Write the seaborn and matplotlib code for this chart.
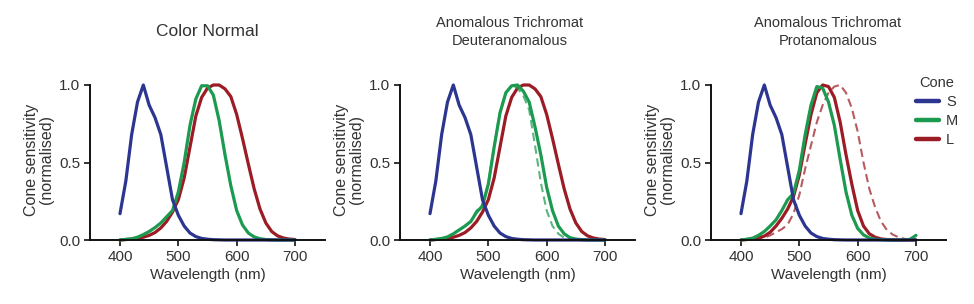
import matplotlib
matplotlib.use("Agg")
import matplotlib.pyplot as plt
import numpy as np
import pandas as pd
import seaborn as sns
from matplotlib.lines import Line2D

# ---------------- data ----------------
wavelength = list(range(400, 701, 10))

s_cone = [0.17, 0.38, 0.68, 0.89, 1.00, 0.87, 0.79, 0.68, 0.47, 0.26,
          0.16, 0.09, 0.045, 0.022, 0.01, 0.005, 0.002, 0.001, 0, 0,
          0, 0, 0, 0, 0, 0, 0, 0, 0, 0, 0]

m_normal = [0.0, 0.004, 0.008, 0.018, 0.035, 0.055, 0.08, 0.11, 0.15, 0.19,
            0.31, 0.50, 0.74, 0.91, 0.995, 0.995, 0.935, 0.77, 0.55, 0.35,
            0.19, 0.097, 0.045, 0.02, 0.008, 0.003, 0.001, 0, 0, 0, 0]

l_normal = [0.0, 0.003, 0.006, 0.01, 0.018, 0.03, 0.048, 0.078, 0.12, 0.18,
            0.26, 0.40, 0.60, 0.80, 0.92, 0.98, 1.0, 1.0, 0.975, 0.925,
            0.81, 0.655, 0.49, 0.33, 0.20, 0.11, 0.055, 0.027, 0.013, 0.006, 0.003]

m_deutan = [0.0, 0.004, 0.01, 0.02, 0.04, 0.065, 0.09, 0.12, 0.18, 0.22,
            0.36, 0.60, 0.82, 0.95, 0.995, 1.0, 0.96, 0.89, 0.73, 0.55,
            0.34, 0.19, 0.09, 0.04, 0.015, 0.006, 0.002, 0, 0, 0, 0]

m_deutan_ref = [0.0, 0.004, 0.01, 0.02, 0.04, 0.065, 0.09, 0.12, 0.19, 0.23,
                0.37, 0.61, 0.83, 0.95, 1.0, 0.98, 0.93, 0.84, 0.61, 0.37,
                0.19, 0.09, 0.04, 0.015, 0.005, 0.001, 0, 0, 0, 0, 0]

m_protan = [0.0, 0.005, 0.012, 0.03, 0.055, 0.09, 0.13, 0.19, 0.26, 0.30,
            0.45, 0.68, 0.87, 0.99, 0.98, 0.89, 0.74, 0.52, 0.31, 0.16,
            0.075, 0.033, 0.013, 0.005, 0.002, 0, 0, 0, 0, 0.005, 0.03]

l_protan = [0.0, 0.003, 0.006, 0.013, 0.025, 0.05, 0.09, 0.14, 0.20, 0.28,
            0.42, 0.62, 0.81, 0.95, 1.0, 0.99, 0.92, 0.76, 0.55, 0.36,
            0.19, 0.09, 0.04, 0.018, 0.007, 0.003, 0.001, 0, 0, 0, 0]

l_protan_ref = [0.0, 0.002, 0.004, 0.008, 0.015, 0.03, 0.05, 0.07, 0.10, 0.17,
                0.29, 0.46, 0.61, 0.76, 0.87, 0.95, 0.99, 1.0, 0.95, 0.85,
                0.70, 0.50, 0.33, 0.21, 0.12, 0.065, 0.035, 0.018, 0.008, 0.003, 0.001]

panel_titles = ["Color Normal",
                "Anomalous Trichromat\nDeuteranomalous",
                "Anomalous Trichromat\nProtanomalous"]
cone_labels = ["S", "M", "L"]
x_ticks = [400, 500, 600, 700]
y_ticks = [0.0, 0.5, 1.0]
y_ticklabels = ["0.0", "0.5", "1.0"]

# ---------------- style ----------------
sns.set_theme(style="ticks")
plt.rcParams["font.family"] = ["Liberation Sans", "DejaVu Sans"]
plt.rcParams["lines.solid_joinstyle"] = "round"
plt.rcParams["lines.solid_capstyle"] = "round"

BLUE = "#2c3590"
GREEN = "#1c9a50"
RED = "#9b1c24"
colors = {"S": BLUE, "M": GREEN, "L": RED}

W, H = 974, 304
fig = plt.figure(figsize=(W / 100, H / 100), dpi=100)

ax_w = 235 / W
bottom = (H - 240) / H
ylim_top = 1.04
ax_h = (155 * ylim_top) / H
lefts = [90 / W, 400 / W, 711 / W]

panels = [
    [("L", l_normal, "-"), ("M", m_normal, "-"), ("S", s_cone, "-")],
    [("L", l_normal, "-"), ("M", m_deutan_ref, "--"), ("M", m_deutan, "-"), ("S", s_cone, "-")],
    [("L", l_protan_ref, "--"), ("L", l_protan, "-"), ("M", m_protan, "-"), ("S", s_cone, "-")],
]

axes = []
for i, (left, curves) in enumerate(zip(lefts, panels)):
    ax = fig.add_axes([left, bottom, ax_w, ax_h])
    axes.append(ax)
    for cone, vals, ls in curves:
        df = pd.DataFrame({"Wavelength": wavelength, "Sensitivity": vals})
        if ls == "-":
            sns.lineplot(data=df, x="Wavelength", y="Sensitivity", ax=ax,
                         color=colors[cone], linewidth=2.3, clip_on=False)
        else:
            sns.lineplot(data=df, x="Wavelength", y="Sensitivity", ax=ax,
                         color=colors[cone], linewidth=1.5, alpha=0.72,
                         linestyle=(0, (4.0, 2.2)), clip_on=False)
    ax.set_xlim(348.6, 751.4)
    ax.set_ylim(0, ylim_top)
    ax.set_xticks(x_ticks)
    ax.set_xticklabels([str(t) for t in x_ticks], fontsize=11)
    ax.set_yticks(y_ticks)
    ax.set_yticklabels(y_ticklabels, fontsize=11)
    ax.spines["left"].set_bounds(0, 1.0)
    for side in ["top", "right"]:
        ax.spines[side].set_visible(False)
    for side in ["left", "bottom"]:
        ax.spines[side].set_linewidth(1.4)
        ax.spines[side].set_color("#111111")
    ax.tick_params(direction="out", length=4, width=1.2, colors="#111111",
                   labelcolor="#333333", pad=3)
    ax.set_xlabel("Wavelength (nm)", fontsize=11, color="#333333", labelpad=3)
    ax.set_ylabel("Cone sensitivity\n(normalised)", fontsize=11.5,
                  color="#333333", labelpad=4, linespacing=1.0)

title_x = [207 / W, 510 / W, 828 / W]
title_size = [12.5, 10.5, 10.5]
for tx, t, fs in zip(title_x, panel_titles, title_size):
    fig.text(tx, 1 - 32 / H, t, ha="center", va="center", fontsize=fs,
             color="#333333", linespacing=1.35)

# legend
handles = [Line2D([0], [0], color=colors[c], linewidth=3.2) for c in cone_labels]
leg = axes[2].legend(handles, cone_labels, title="Cone", loc="upper left",
                     bbox_to_anchor=(916 / W, 1 - 76 / H),
                     bbox_transform=fig.transFigure, frameon=False,
                     handlelength=1.6, handletextpad=0.45, labelspacing=0.35,
                     fontsize=10.5, title_fontsize=10.5, borderpad=0,
                     borderaxespad=0)
for txt in leg.get_texts():
    txt.set_color("#333333")
leg.get_title().set_color("#333333")

fig.savefig("out.png", dpi=100)
